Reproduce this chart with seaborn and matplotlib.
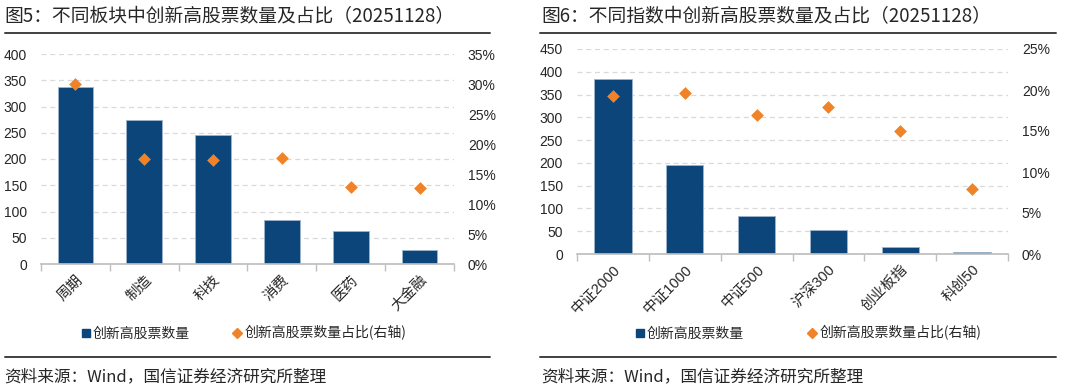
import matplotlib.pyplot as plt
import matplotlib.lines as mlines
import seaborn as sns

# 图5 data: sectors
sectors = ['周期', '制造', '科技', '消费', '医药', '大金融']
sector_counts = [337, 274, 246, 84, 62, 27]
sector_pct = [30.0, 17.5, 17.4, 17.6, 12.8, 12.7]

# 图6 data: indices
indices = ['中证2000', '中证1000', '中证500', '沪深300', '创业板指', '科创50']
index_counts = [385, 196, 84, 53, 15, 4]
index_pct = [19.3, 19.6, 16.9, 17.9, 15.0, 7.9]

bar_color = '#0B4579'
dot_color = '#F08228'
grid_color = '#D9D9D9'
txt_color = '#262626'

sns.set_theme(style='white')
plt.rcParams['font.family'] = ['Liberation Sans', 'Noto Sans CJK SC', 'DejaVu Sans']
cjk = ['Noto Sans CJK SC', 'DejaVu Sans']

W, H = 1080, 390
fig = plt.figure(figsize=(W / 100, H / 100), dpi=100)


def px(x0, y0, x1, y1):
    # pixel box (top-left origin) -> figure fraction rect
    return [x0 / W, 1 - y1 / H, (x1 - x0) / W, (y1 - y0) / H]


def panel(rect, cats, counts, pct, ymax, ystep, pmax, pstep, title, tx, lx0, lx1, leg_x, colsp):
    ax = fig.add_axes(rect)
    sns.barplot(x=cats, y=counts, ax=ax, color=bar_color, width=0.52,
                edgecolor='#9DB4CC', linewidth=0.6, saturation=1)
    ax.set_ylim(0, ymax)
    ax.set_yticks(range(0, ymax + 1, ystep))
    ax.yaxis.grid(True, color=grid_color, linestyle=(0, (4, 3)), linewidth=0.9)
    ax.set_axisbelow(True)
    for s in ['top', 'right', 'left']:
        ax.spines[s].set_visible(False)
    ax.spines['bottom'].set_color('#BFBFBF')
    ax.set_xlim(-0.5, len(cats) - 0.5)
    ax.set_xticks(range(len(cats)))
    ax.set_xticklabels(cats, rotation=45, ha='right', rotation_mode='anchor',
                       fontsize=10.5, color=txt_color)
    ax.set_xticks([i - 0.5 for i in range(len(cats) + 1)], minor=True)
    ax.tick_params(axis='x', which='major', length=0, pad=6)
    ax.tick_params(axis='x', which='minor', length=5, color='#BFBFBF', bottom=True)
    ax.tick_params(axis='y', length=0, labelsize=10, labelcolor=txt_color, pad=10)
    ax.set_xlabel('')
    ax.set_ylabel('')

    ax2 = ax.twinx()
    sns.stripplot(x=cats, y=pct, ax=ax2, jitter=False, marker='D', size=6.5,
                  color=dot_color, linewidth=0, zorder=5)
    ax2.set_ylim(0, pmax)
    ax2.set_yticks(range(0, pmax + 1, pstep))
    ax2.set_yticklabels([f'{v}%' for v in range(0, pmax + 1, pstep)])
    ax2.tick_params(axis='y', length=0, labelsize=10, labelcolor=txt_color, pad=10)
    ax2.set_xlim(-0.5, len(cats) - 0.5)
    for s in ax2.spines.values():
        s.set_visible(False)
    ax2.grid(False)
    ax2.set_ylabel('')

    # title, rules, source
    fig.text(tx / W, 1 - 17 / H, title, fontsize=13.5, color=txt_color, va='center',
             ha='left', family=cjk)
    fig.add_artist(mlines.Line2D([lx0 / W, lx1 / W], [1 - 33 / H] * 2, color='#404040', lw=1.4))
    fig.add_artist(mlines.Line2D([lx0 / W, lx1 / W], [1 - 357 / H] * 2, color='#404040', lw=1.4))
    fig.text(tx / W, 1 - 377 / H, '资料来源：Wind，国信证券经济研究所整理', fontsize=12,
             color=txt_color, va='center', ha='left', family=cjk)

    h1 = mlines.Line2D([], [], marker='s', color=bar_color, linestyle='none', markersize=6)
    h2 = mlines.Line2D([], [], marker='D', color=dot_color, linestyle='none', markersize=5.5)
    fig.legend([h1, h2], ['创新高股票数量', '创新高股票数量占比(右轴)'],
               loc='center left', bbox_to_anchor=(leg_x / W, 1 - 333 / H), ncol=2,
               frameon=False, fontsize=10, handletextpad=0.1, columnspacing=colsp,
               handlelength=0.8, labelcolor=txt_color, prop={'family': cjk, 'size': 10})


panel(px(41, 54, 454, 264), sectors, sector_counts, sector_pct, 400, 50, 35, 5,
      '图5：不同板块中创新高股票数量及占比（20251128）', 4, 5, 490, 68, 3.0)
panel(px(577, 49, 1008, 254), indices, index_counts, index_pct, 450, 50, 25, 5,
      '图6：不同指数中创新高股票数量及占比（20251128）', 541, 540, 1056, 622, 4.5)

fig.savefig('out.png', dpi=100)
